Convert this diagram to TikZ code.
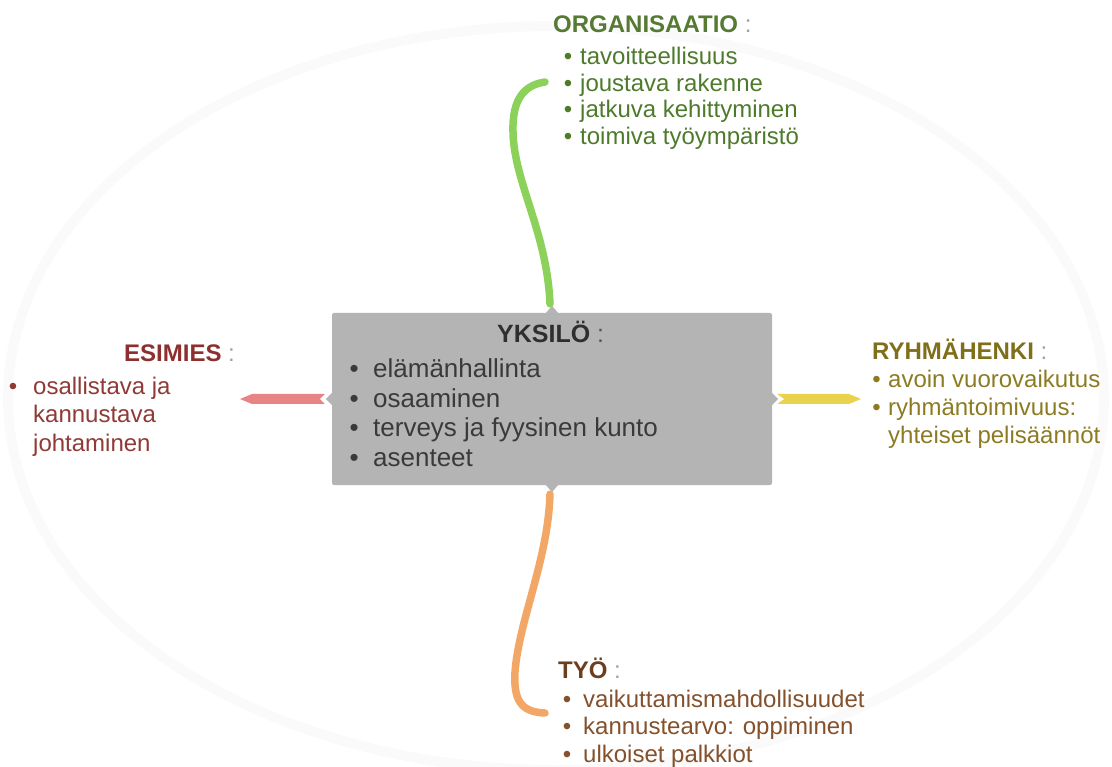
\documentclass[tikz,border=0pt]{standalone}
\usepackage{fontspec}
\setmainfont{Liberation Sans}
\usetikzlibrary{calc}
\definecolor{boxgray}{HTML}{B4B4B4}
\definecolor{orgH}{HTML}{557A33}
\definecolor{orgT}{HTML}{4E7A2C}
\definecolor{esiH}{HTML}{8E2F2F}
\definecolor{esiT}{HTML}{8F3A36}
\definecolor{ryhH}{HTML}{7F6F1A}
\definecolor{ryhT}{HTML}{8C7B22}
\definecolor{tyoH}{HTML}{6A3E1E}
\definecolor{tyoT}{HTML}{84512C}
\definecolor{yksH}{HTML}{2F2F2F}
\definecolor{yksT}{HTML}{3A3A3A}
\definecolor{cgreen}{HTML}{8CD15A}
\definecolor{corange}{HTML}{F2A766}
\definecolor{cred}{HTML}{E88484}
\definecolor{cyellow}{HTML}{E9D24C}
\definecolor{colon}{HTML}{A0A0A0}
\definecolor{colondark}{HTML}{555555}
\newcommand\bul[1]{\llap{\textbullet\hspace{#1pt}}}
\newcommand\hd[2][colon]{\textbf{#2} \textcolor{#1}{:}}
\begin{document}
\begin{tikzpicture}[x=1pt,y=-1pt,
  txt/.style={anchor=base west, inner sep=0pt, font=\fontsize{24}{26}\selectfont},
  bigtxt/.style={anchor=base west, inner sep=0pt, font=\fontsize{26}{30}\selectfont},
  stroke/.style={line width=7.5pt, line cap=round}]
\useasboundingbox (0,0) rectangle (1112,767);
% faint background ellipse
\draw[black!2, line width=10pt] (556,398) ellipse [x radius=548pt, y radius=372pt];

% central box
\node[fill=boxgray, rounded corners=2pt, minimum width=440pt, minimum height=172pt, inner sep=0pt] (box) at (552,399) {};
\fill[boxgray] ($(box.north)+(-6,0)$) -- ($(box.north)+(0,-7)$) -- ($(box.north)+(6,0)$) -- cycle;
\fill[boxgray] ($(box.south)+(-6,0)$) -- ($(box.south)+(0,7)$) -- ($(box.south)+(6,0)$) -- cycle;
\fill[boxgray] ($(box.west)+(0,-6)$) -- ($(box.west)+(-6,0)$) -- ($(box.west)+(0,6)$) -- cycle;
\fill[boxgray] ($(box.east)+(0,-6)$) -- ($(box.east)+(6,0)$) -- ($(box.east)+(0,6)$) -- cycle;

\node[bigtxt, text=yksH, font=\fontsize{25}{30}\selectfont] (yh) at (497,343) {\hd[colondark]{YKSILÖ}};
\node[bigtxt, text=yksT] (y1) at (373,378) {\bul{14.5}elämänhallinta};
\node[bigtxt, text=yksT] (y2) at (373,407.5) {\bul{14.5}osaaminen};
\node[bigtxt, text=yksT] (y3) at (373,437) {\bul{14.5}terveys ja fyysinen kunto};
\node[bigtxt, text=yksT] (y4) at (373,466.5) {\bul{14.5}asenteet};

% ORGANISAATIO
\node[txt, text=orgH] (oh) at (553,33) {\hd{ORGANISAATIO}};
\node[txt, text=orgT] (o1) at (580,65) {\bul{8}tavoitteellisuus};
\node[txt, text=orgT] (o2) at (580,91.5) {\bul{8}joustava rakenne};
\node[txt, text=orgT] (o3) at (580,118) {\bul{8}jatkuva kehittyminen};
\node[txt, text=orgT] (o4) at (580,144.5) {\bul{8}toimiva työympäristö};
\coordinate (gEnd) at (545,82);
\draw[cgreen, stroke] ($(box.north)+(-2,-9)$) .. controls (547,232) and (514,182) .. (513,132) .. controls (512,98) and (525,85) .. (gEnd);

% ESIMIES
\node[txt, text=esiH] (eh) at (124,362) {\hd{ESIMIES}};
\node[txt, text=esiT] (e1) at (33,395) {\bul{16}osallistava ja};
\node[txt, text=esiT] (e2) at (33,423) {kannustava};
\node[txt, text=esiT] (e3) at (33,451) {johtaminen};
\coordinate (rTip) at (240,399);
\fill[cred] (rTip) -- ($(rTip)+(12,-5)$) -- ($(box.west)+(-7,-5)$) -- ($(box.west)+(-12,0)$) -- ($(box.west)+(-7,5)$) -- ($(rTip)+(12,5)$) -- cycle;

% RYHMAHENKI
\node[txt, text=ryhH] (rh) at (872,360) {\hd{RYHMÄHENKI}};
\node[txt, text=ryhT] (r1) at (888,388) {\bul{7.5}avoin vuorovaikutus};
\node[txt, text=ryhT] (r2) at (888,416) {\bul{7.5}ryhmäntoimivuus:};
\node[txt, text=ryhT] (r3) at (888,443) {yhteiset pelisäännöt};
\coordinate (yTip) at (861,399);
\fill[cyellow] (yTip) -- ($(yTip)+(-12,-5)$) -- ($(box.east)+(5,-5)$) -- ($(box.east)+(12,0)$) -- ($(box.east)+(5,5)$) -- ($(yTip)+(-12,5)$) -- cycle;

% TYO
\node[txt, text=tyoH] (th) at (558,678) {\hd{TYÖ}};
\node[txt, text=tyoT] (t1) at (583,707) {\bul{12}vaikuttamismahdollisuudet};
\node[txt, text=tyoT] (t2) at (583,734.5) {\bul{12}kannustearvo: oppiminen};
\node[txt, text=tyoT] (t3) at (583,762) {\bul{12}ulkoiset palkkiot};
\coordinate (oEnd) at (545,713);
\draw[corange, stroke] ($(box.south)+(-2,9)$) .. controls (548,560) and (519,620) .. (515,672) .. controls (513,705) and (525,712) .. (oEnd);
\end{tikzpicture}
\end{document}
